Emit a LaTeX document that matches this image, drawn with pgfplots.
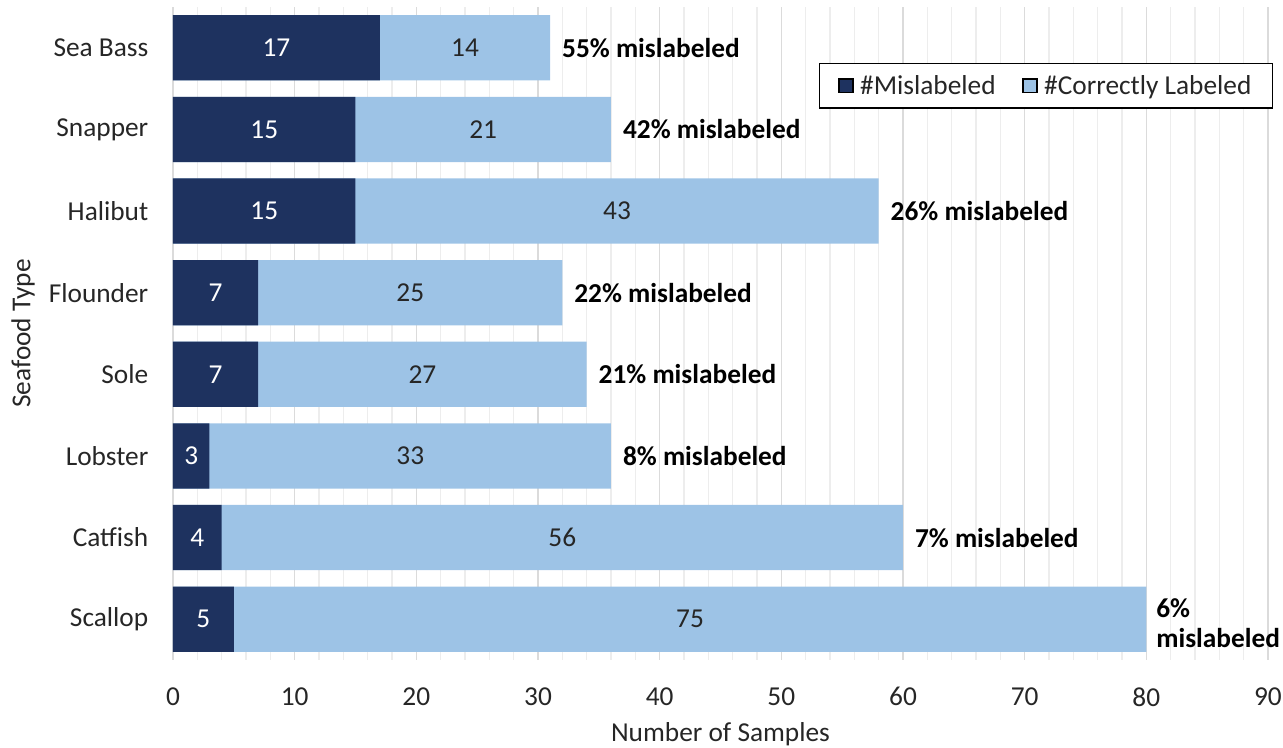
\documentclass[border=0pt]{standalone}
\usepackage{pgfplots}
\usepackage{pgfplotstable}
\pgfplotsset{compat=1.18}
\usepackage{fontspec}
\setmainfont{Carlito}

\definecolor{navybar}{RGB}{30,50,95}
\definecolor{lightbar}{RGB}{157,195,230}
\definecolor{labeltext}{RGB}{38,38,38}
\newcommand{\chartfont}{\fontsize{20.5}{23}\selectfont}

% pos = row on the y axis (Scallop at the bottom)
\pgfplotstableread{
pos name     mis cor pct
7   SeaBass  17  14  55
6   Snapper  15  21  42
5   Halibut  15  43  26
4   Flounder 7   25  22
3   Sole     7   27  21
2   Lobster  3   33  8
1   Catfish  4   56  7
0   Scallop  5   75  6
}\seafood

\begin{document}
\begin{tikzpicture}[font=\chartfont]
\path[use as bounding box] (-129.75pt,-66pt) rectangle (832.5pt,495pt);
\begin{axis}[
  scale only axis,
  width=821.25pt, height=489.75pt,
  xmin=0, xmax=90, ymin=-0.5, ymax=7.5,
  xtick={0,10,...,90},
  minor x tick num=4,
  xmajorgrids, xminorgrids,
  major grid style={color=black!14, line width=0.8pt},
  minor grid style={color=black!7, line width=0.8pt},
  ytick={0,...,7},
  yticklabels={Scallop,Catfish,Lobster,Sole,Flounder,Halibut,Snapper,Sea Bass},
  major tick length=0pt, minor tick length=0pt,
  axis line style={draw=none},
  /pgf/number format/assume math mode=true,
  tick label style={font=\chartfont, text=black!85},
  xticklabel style={yshift=-17pt},
  yticklabel style={xshift=-15pt},
  xlabel={Number of Samples},
  ylabel={Seafood Type},
  label style={font=\chartfont, text=black!85},
  xlabel style={at={(axis description cs:0.5,-0.113)}, anchor=center},
  ylabel style={at={(axis description cs:-0.137,0.5)}, anchor=center},
  legend columns=2,
  legend image code/.code={\fill[#1] (0pt,-5pt) rectangle (10.5pt,5pt);},
  legend style={
    at={(rel axis cs:0.59,0.915)}, anchor=north west,
    draw=black, line width=0.9pt, font=\chartfont, text=black!85,
    inner xsep=14pt, inner ysep=7pt,
    /tikz/every odd column/.append style={column sep=3pt},
    /tikz/every even column/.append style={column sep=18pt},
  },
]
\addlegendimage{fill=navybar}
\addlegendentry{\#Mislabeled}
\addlegendimage{fill=lightbar}
\addlegendentry{\#Correctly Labeled}

% full bar (mislabeled + correctly labeled), then the mislabeled part over it
\addplot[xbar, bar width=0.8, bar shift=0pt, fill=lightbar, draw=none, forget plot]
  table[x expr=\thisrow{mis}+\thisrow{cor}, y=pos] {\seafood};
\addplot[xbar, bar width=0.8, bar shift=0pt, fill=navybar, draw=none, forget plot]
  table[x=mis, y=pos] {\seafood};

% counts in the middle of each segment
\addplot[draw=none, mark=none, forget plot,
  point meta=explicit, nodes near coords,
  every node near coord/.append style={anchor=center, text=white, font=\chartfont}]
  table[x expr=\thisrow{mis}/2, y=pos, meta=mis] {\seafood};
\addplot[draw=none, mark=none, forget plot,
  point meta=explicit, nodes near coords,
  every node near coord/.append style={anchor=center, text=labeltext, font=\chartfont}]
  table[x expr=\thisrow{mis}+\thisrow{cor}/2, y=pos, meta=cor] {\seafood};

% share mislabeled, right of each bar
\addplot[draw=none, mark=none, forget plot,
  skip coords between index={7}{8},
  point meta=explicit,
  nodes near coords={\pgfmathprintnumber{\pgfplotspointmeta}\% mislabeled},
  every node near coord/.append style={anchor=west, xshift=5.5pt, text=black, font=\chartfont\bfseries}]
  table[x expr=\thisrow{mis}+\thisrow{cor}, y=pos, meta=pct] {\seafood};
\addplot[draw=none, mark=none, forget plot,
  skip coords between index={0}{7},
  point meta=explicit,
  nodes near coords={\pgfmathprintnumber{\pgfplotspointmeta}\%\\mislabeled},
  every node near coord/.append style={anchor=west, xshift=4pt, yshift=-3pt, align=left, text=black, font=\chartfont\bfseries}]
  table[x expr=\thisrow{mis}+\thisrow{cor}, y=pos, meta=pct] {\seafood};
\end{axis}
\end{tikzpicture}
\end{document}
